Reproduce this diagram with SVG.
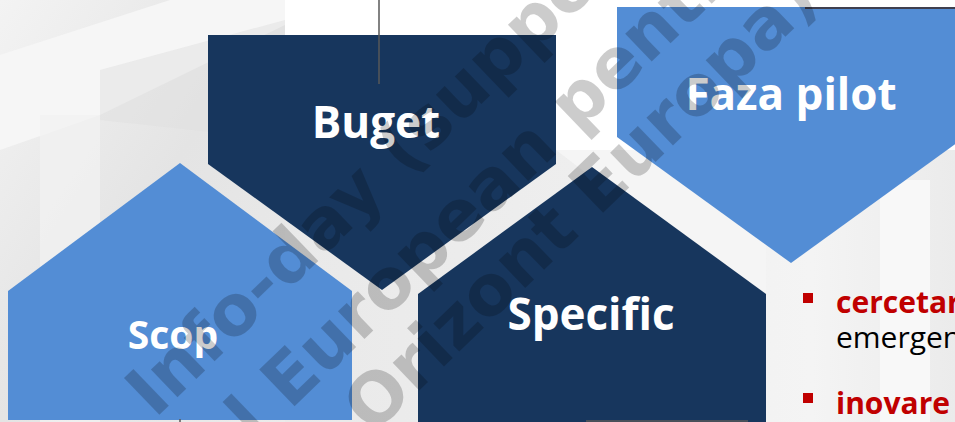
<svg xmlns="http://www.w3.org/2000/svg" width="955" height="422" viewBox="0 0 955 422">
  <defs>
    <linearGradient id="bgLeft" x1="0" y1="0" x2="1" y2="1">
      <stop offset="0" stop-color="#f3f3f3"/>
      <stop offset="0.5" stop-color="#e4e4e4"/>
      <stop offset="1" stop-color="#ebebeb"/>
    </linearGradient>
    <linearGradient id="bgLow" x1="0" y1="0" x2="1" y2="0">
      <stop offset="0" stop-color="#e4e4e4"/>
      <stop offset="0.6" stop-color="#eeeeee"/>
      <stop offset="0.85" stop-color="#f4f4f4"/>
      <stop offset="1" stop-color="#ebebeb"/>
    </linearGradient>
    <style>
      .dark { fill: #17365D; }
      .light { fill: #538DD5; }
      .title { font-family: "Open Sans", "DejaVu Sans", sans-serif; font-weight: bold; fill: #ffffff; text-anchor: middle; }
      .bul { font-family: "Open Sans", "DejaVu Sans", sans-serif; font-size: 30px; }
      .red { fill: #C00000; font-weight: bold; }
      .blk { fill: #000000; }
      .conn { stroke: #595959; stroke-width: 1.5; fill: none; }
      .wm { font-family: "DejaVu Sans", sans-serif; font-weight: bold; font-size: 70px; fill: #000000; fill-opacity: 0.2; }
    </style>
  </defs>

  <!-- background -->
  <rect x="0" y="0" width="955" height="422" fill="#ffffff"/>
  <rect x="0" y="150" width="955" height="272" fill="url(#bgLow)"/>
  <rect x="0" y="0" width="285" height="422" fill="url(#bgLeft)"/>
  <polygon points="0,55 170,0 285,0 285,25 100,115 0,150" fill="#f6f6f6"/>
  <polygon points="100,70 285,20 285,140 100,120" fill="#e0e0e0" opacity="0.5"/>
  <rect x="40" y="115" width="60" height="307" fill="#f2f2f2" opacity="0.7"/>
  <polygon points="556,150 640,150 766,240 766,300 700,260" fill="#f5f5f5"/>
  <rect x="880" y="180" width="50" height="242" fill="#f8f8f8"/>

  <!-- nodes -->
  <g id="node-buget">
    <polygon class="dark" points="208,35 556,35 556,164 382,290 208,164"/>
    <text class="title" x="376" y="138" font-size="44">Buget</text>
  </g>

  <g id="node-faza-pilot">
    <polygon class="light" points="617,7 965,7 965,137 791,263 617,137"/>
    <text class="title" x="791" y="110" font-size="44">Faza pilot</text>
  </g>

  <g id="node-scop">
    <polygon class="light" points="8,291 180,163 352,291 352,420 8,420"/>
    <text class="title" x="173" y="349" font-size="39">Scop</text>
  </g>

  <g id="node-specific">
    <polygon class="dark" points="418,294 592,167 766,294 766,422 418,422"/>
    <text class="title" x="591" y="330" font-size="44">Specific</text>
  </g>

  <g id="bullets">
    <rect x="803" y="293" width="10" height="10" fill="#C00000"/>
    <text class="bul red" x="836" y="313">cercetar</text>
    <text class="bul blk" x="836" y="348">emergen</text>
    <rect x="803" y="393" width="10" height="10" fill="#C00000"/>
    <text class="bul red" x="836" y="414">inovare</text>
  </g>

  <!-- connectors -->
  <g id="connectors">
    <line class="conn" x1="379" y1="0" x2="379" y2="84"/>
    <line x1="805" y1="8" x2="955" y2="8" stroke="#3f3f4f" stroke-width="2"/>
    <line class="conn" x1="180" y1="419" x2="180" y2="422"/>
    <line x1="586" y1="421" x2="748" y2="421" stroke="#5a5a5a" stroke-width="1.5"/>
  </g>

  <!-- watermark -->
  <g id="watermark" transform="rotate(-44)">
    <text class="wm" x="-180" y="409">Info-day (support</text>
    <text class="wm" x="-125" y="497">l European pentru</text>
    <text class="wm" x="-35" y="572">Orizont Europa)</text>
  </g>
</svg>
